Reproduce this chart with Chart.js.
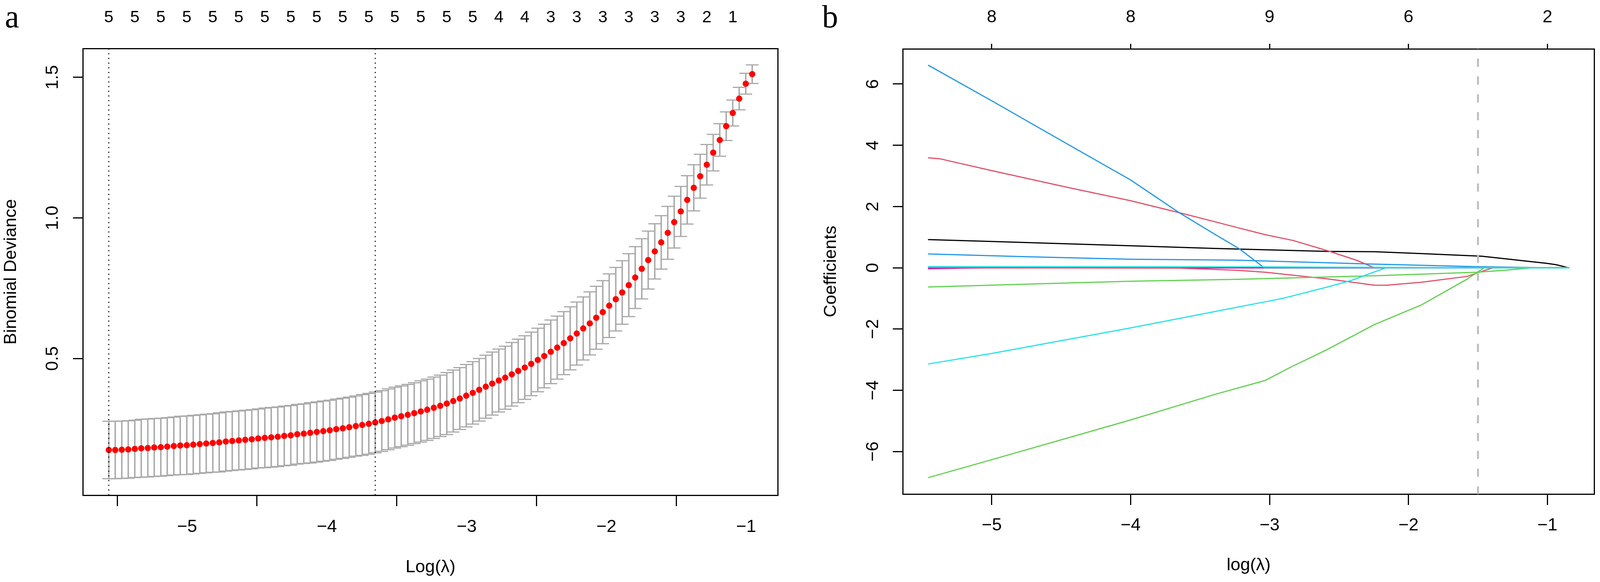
<!DOCTYPE html>
<html>
<head>
<meta charset="utf-8">
<script src="https://cdn.jsdelivr.net/npm/chart.js@4.4.1/dist/chart.umd.min.js"></script>
<style>
  html, body { margin: 0; padding: 0; background: #fff; overflow: hidden; }
  #wrap { position: relative; height: 1489px; overflow: hidden; }
  canvas { position: absolute; top: 0; }
</style>
</head>
<body>
<div id="wrap">
  <canvas id="cvPlot"></canvas>
  <canvas id="pathPlot"></canvas>
</div>
<script>
// ---- panel a: cross-validated binomial deviance ----
const logLambda = [
  -5.560, -5.514, -5.467, -5.421, -5.374, -5.328, -5.281, -5.235, -5.188, -5.142,
  -5.095, -5.049, -5.002, -4.956, -4.909, -4.863, -4.816, -4.770, -4.723, -4.677,
  -4.630, -4.584, -4.537, -4.491, -4.444, -4.398, -4.351, -4.305, -4.258, -4.212,
  -4.165, -4.119, -4.072, -4.026, -3.979, -3.933, -3.886, -3.840, -3.793, -3.747,
  -3.700, -3.654, -3.607, -3.561, -3.514, -3.468, -3.421, -3.375, -3.328, -3.282,
  -3.235, -3.189, -3.142, -3.096, -3.049, -3.003, -2.956, -2.910, -2.863, -2.817,
  -2.770, -2.724, -2.677, -2.631, -2.584, -2.538, -2.491, -2.445, -2.398, -2.352,
  -2.305, -2.259, -2.212, -2.166, -2.119, -2.073, -2.026, -1.980, -1.933, -1.887,
  -1.840, -1.794, -1.747, -1.701, -1.654, -1.608, -1.561, -1.515, -1.468, -1.422,
  -1.375, -1.329, -1.282, -1.236, -1.189, -1.143, -1.096, -1.050, -1.003, -0.957
];
const cvMean = [
  0.175, 0.175, 0.176, 0.177, 0.179, 0.181, 0.182, 0.184, 0.185, 0.187,
  0.189, 0.191, 0.192, 0.194, 0.196, 0.198, 0.200, 0.202, 0.205, 0.207,
  0.209, 0.211, 0.213, 0.216, 0.218, 0.220, 0.222, 0.225, 0.227, 0.231,
  0.233, 0.236, 0.239, 0.242, 0.245, 0.249, 0.252, 0.256, 0.260, 0.264,
  0.268, 0.273, 0.278, 0.284, 0.290, 0.295, 0.300, 0.306, 0.312, 0.318,
  0.325, 0.332, 0.340, 0.349, 0.358, 0.368, 0.378, 0.389, 0.400, 0.411,
  0.422, 0.432, 0.444, 0.456, 0.468, 0.481, 0.495, 0.509, 0.524, 0.539,
  0.555, 0.572, 0.589, 0.607, 0.625, 0.645, 0.665, 0.688, 0.711, 0.735,
  0.761, 0.788, 0.819, 0.850, 0.881, 0.913, 0.947, 0.985, 1.023, 1.064,
  1.107, 1.148, 1.189, 1.232, 1.277, 1.326, 1.373, 1.424, 1.477, 1.511
];
const cvSd = [
  0.102, 0.102, 0.102, 0.102, 0.102, 0.103, 0.103, 0.103, 0.103, 0.103,
  0.103, 0.104, 0.104, 0.104, 0.104, 0.104, 0.104, 0.105, 0.105, 0.105,
  0.105, 0.105, 0.105, 0.105, 0.106, 0.106, 0.106, 0.106, 0.106, 0.106,
  0.106, 0.107, 0.107, 0.107, 0.107, 0.107, 0.107, 0.107, 0.107, 0.108,
  0.108, 0.108, 0.108, 0.108, 0.108, 0.108, 0.108, 0.108, 0.109, 0.109,
  0.109, 0.109, 0.110, 0.110, 0.110, 0.111, 0.111, 0.111, 0.112, 0.112,
  0.112, 0.112, 0.113, 0.113, 0.113, 0.113, 0.113, 0.113, 0.113, 0.112,
  0.112, 0.112, 0.112, 0.112, 0.112, 0.112, 0.112, 0.113, 0.113, 0.113,
  0.112, 0.110, 0.107, 0.103, 0.098, 0.095, 0.094, 0.092, 0.089, 0.086,
  0.082, 0.078, 0.072, 0.065, 0.058, 0.051, 0.046, 0.040, 0.037, 0.033
];
const nzTickIdx = [0, 4, 8, 12, 16, 20, 24, 28, 32, 36, 40, 44, 48, 52, 56, 60, 64, 68, 72, 76, 80, 84, 88, 92, 96];
const nzTickLabels = ['5', '5', '5', '5', '5', '5', '5', '5', '5', '5', '5', '5', '5', '5', '5',
  '4', '4', '3', '3', '3', '3', '3', '3', '2', '1'];
const lambdaMarkIdx = [0, 41]; // lambda.min, lambda.1se
const devTicks = [0.5, 1.0, 1.5];
const logTicks = [-5, -4, -3, -2, -1];
const devRange = [0.0142, 1.6023];
const logRangeA = [-5.744, -0.773];

// ---- panel b: coefficient paths ----
const logRangeB = [-5.639, -0.662];
const coefRange = [-7.388, 7.148];
const coefTicks = [-6, -4, -2, 0, 2, 4, 6];
const dfLabels = ['8', '8', '9', '6', '2'];
const cutLine = [-1.50];

const zeroX = [-5.455, -0.846];
const zeroY = [0, 0];
const blackX = [-5.455, -5.003, -4.001, -3.382, -2.578, -2.244, -1.910, -1.473, -1.272, -1.172, -1.004, -0.937, -0.846];
const blackY = [0.92, 0.86, 0.72, 0.63, 0.535, 0.525, 0.463, 0.378, 0.28, 0.229, 0.144, 0.101, 0.0];
const redX = [-5.455, -5.374, -4.997, -4.459, -4.001, -3.651, -3.382, -3.248, -3.030, -2.829, -2.578, -2.377, -2.244, -0.846];
const redY = [3.59, 3.56, 3.17, 2.63, 2.19, 1.80, 1.49, 1.33, 1.08, 0.89, 0.55, 0.25, 0.0, 0.0];
const red2X = [-5.455, -3.650, -3.248, -3.030, -2.578, -2.244, -2.160, -1.910, -1.578, -1.480, -1.410, -1.390, -0.846];
const red2Y = [0.0, -0.01, -0.078, -0.146, -0.367, -0.571, -0.571, -0.473, -0.281, -0.132, -0.026, 0.0, 0.0];
const greenX = [-5.455, -4.728, -4.001, -3.248, -2.244, -1.510, -1.300, -1.105, -0.846];
const greenY = [-0.626, -0.53, -0.44, -0.38, -0.26, -0.146, -0.08, 0.0, 0.0];
const green2X = [-5.455, -5.003, -4.001, -3.382, -3.032, -2.850, -2.590, -2.244, -1.910, -1.578, -1.455, -0.846];
const green2Y = [-6.85, -6.27, -4.97, -4.12, -3.68, -3.25, -2.68, -1.85, -1.22, -0.37, 0.0, 0.0];
const blueX = [-5.455, -5.003, -4.459, -4.001, -3.651, -3.382, -3.221, -3.038, -0.846];
const blueY = [6.61, 5.46, 4.05, 2.87, 1.80, 1.06, 0.63, 0.0, 0.0];
const blue2X = [-5.455, -4.728, -4.001, -3.248, -2.244, -1.510, -1.080, -0.950, -0.846];
const blue2Y = [0.45, 0.36, 0.28, 0.25, 0.12, 0.036, 0.007, 0.0, 0.0];
const cyanX = [-5.455, -3.000, -2.200, -1.500, -1.200, -0.846];
const cyanY = [0.04, 0.03, 0.015, 0.005, 0.0, 0.0];
const cyan2X = [-5.455, -5.003, -4.001, -3.248, -3.002, -2.910, -2.578, -2.410, -2.244, -2.160, -0.846];
const cyan2Y = [-3.14, -2.80, -1.965, -1.30, -1.085, -1.005, -0.62, -0.41, -0.133, 0.0, 0.0];
const magentaX = [-5.455, -5.200, -4.900, -0.846];
const magentaY = [-0.03, -0.01, 0.0, 0.0];

// ---- page geometry: the design is 4275 wide, squeeze horizontally to the viewport ----
const W = Math.min(window.innerWidth || 4275, 4275);
const sx = W / 4275;
const H = 1489;
const splitX = Math.round(2137 * sx);

const wrap = document.getElementById('wrap');
wrap.style.width = W + 'px';
const cvCanvas = document.getElementById('cvPlot');
const pathCanvas = document.getElementById('pathPlot');
cvCanvas.width = splitX; cvCanvas.height = H; cvCanvas.style.left = '0px';
pathCanvas.width = W - splitX; pathCanvas.height = H; pathCanvas.style.left = splitX + 'px';

Chart.defaults.font.family = '"Liberation Sans", Arial, Helvetica, sans-serif';
Chart.defaults.font.size = 45;
Chart.defaults.color = '#000';

const minus = v => (v < 0 ? '\u2212' + Math.abs(v) : String(v));
const fixedTicks = values => s => { s.ticks = values.map(value => ({ value })); };

const panelLetter = {
  id: 'panelLetter',
  afterDraw(chart, args, opts) {
    const { ctx } = chart;
    ctx.save();
    ctx.font = '82px "Liberation Serif", "Times New Roman", serif';
    ctx.fillStyle = '#000';
    ctx.textBaseline = 'alphabetic';
    ctx.fillText(opts.text, opts.x, opts.y);
    ctx.restore();
  }
};

const tickGrid = len => ({
  drawOnChartArea: false, drawTicks: true, tickLength: len,
  tickWidth: 3, tickColor: '#000', color: '#000', lineWidth: 3
});
const noGrid = { display: false, drawTicks: false };
const frame = { display: true, color: '#000', width: 3 };

const baseOptions = {
  responsive: false,
  devicePixelRatio: 1,
  animation: false,
  events: [],
  layout: { padding: 0 },
  plugins: { legend: { display: false }, tooltip: { enabled: false } }
};

// ---- chart a ----
const cvPoints = logLambda.map((x, i) => ({ x, y: cvMean[i] }));
const cvBars = logLambda.map((x, i) => ({ x, y: [cvMean[i] - cvSd[i], cvMean[i] + cvSd[i]] }));
const cvUpper = logLambda.map((x, i) => ({ x, y: cvMean[i] + cvSd[i] }));
const cvLower = logLambda.map((x, i) => ({ x, y: cvMean[i] - cvSd[i] }));

const markLines = lambdaMarkIdx.map(i => ({
  type: 'scatter', showLine: true,
  data: [{ x: logLambda[i], y: devRange[1] }, { x: logLambda[i], y: devRange[0] }],
  borderColor: '#000', borderWidth: 2.5, borderDash: [3, 9],
  pointRadius: 0, order: 0
}));

new Chart(cvCanvas, {
  type: 'scatter',
  data: {
    datasets: [
      ...markLines,
      { type: 'scatter', data: cvPoints, pointRadius: 8, pointBackgroundColor: '#FF0000',
        pointBorderWidth: 0, order: 1 },
      { type: 'scatter', data: cvUpper, pointStyle: 'line', pointRadius: 17 * sx,
        pointBorderColor: '#A9A9A9', pointBorderWidth: 3, order: 2 },
      { type: 'scatter', data: cvLower, pointStyle: 'line', pointRadius: 17 * sx,
        pointBorderColor: '#A9A9A9', pointBorderWidth: 3, order: 2 },
      { type: 'bar', data: cvBars, backgroundColor: '#A9A9A9', borderWidth: 0,
        barThickness: 3, order: 3 }
    ]
  },
  options: {
    ...baseOptions,
    plugins: { ...baseOptions.plugins, panelLetter: { text: 'a', x: 13 * sx, y: 70 } },
    scales: {
      x: {
        type: 'linear', position: 'bottom', min: logRangeA[0], max: logRangeA[1], offset: false,
        afterBuildTicks: fixedTicks(logTicks),
        afterFit: s => { s.height = 222; },
        grid: tickGrid(28), border: frame,
        ticks: { autoSkip: false, maxRotation: 0, padding: 27, callback: minus },
        title: { display: true, text: 'Log(\u03bb)', padding: { top: 0, bottom: 10 } }
      },
      xTop: {
        type: 'linear', position: 'top', min: logRangeA[0], max: logRangeA[1], offset: false,
        afterBuildTicks: s => { s.ticks = nzTickIdx.map(i => ({ value: logLambda[i] })); },
        afterFit: s => { s.height = 124; },
        grid: noGrid, border: frame,
        ticks: { autoSkip: false, maxRotation: 0, padding: 53, font: { size: 43 },
          callback: (v, i) => nzTickLabels[i] }
      },
      y: {
        type: 'linear', position: 'left', min: devRange[0], max: devRange[1],
        afterBuildTicks: fixedTicks(devTicks),
        afterFit: s => { s.width = 222 * sx; },
        grid: tickGrid(27 * sx), border: frame,
        ticks: { autoSkip: false, minRotation: 90, maxRotation: 90, crossAlign: 'center',
          padding: 54 * sx - 31.3, callback: v => v.toFixed(1) },
        title: { display: true, text: 'Binomial Deviance', padding: { top: Math.max(0, 30 * sx - 27), bottom: 0 } }
      },
      yRight: {
        type: 'linear', position: 'right', min: devRange[0], max: devRange[1],
        afterFit: s => { s.width = 59 * sx; },
        grid: noGrid, border: frame, ticks: { display: false }
      }
    }
  },
  plugins: [panelLetter]
});

// ---- chart b ----
const path = (xs, ys, color, order) => ({
  type: 'scatter', showLine: true,
  data: xs.map((x, i) => ({ x, y: ys[i] })),
  borderColor: color, borderWidth: 3, borderCapStyle: 'round', borderJoinStyle: 'round',
  pointRadius: 0, tension: 0, order
});

const cutLines = cutLine.map(v => ({
  type: 'scatter', showLine: true,
  data: [{ x: v, y: coefRange[1] }, { x: v, y: coefRange[0] }],
  borderColor: '#BEBEBE', borderWidth: 5, borderDash: [21, 24.6], borderDashOffset: 20.6,
  pointRadius: 0, order: 0
}));

new Chart(pathCanvas, {
  type: 'scatter',
  data: {
    datasets: [
      ...cutLines,
      path(cyanX, cyanY, '#28E2E5', 1),
      path(green2X, green2Y, '#61D04F', 2),
      path(cyan2X, cyan2Y, '#28E2E5', 3),
      path(greenX, greenY, '#61D04F', 4),
      path(red2X, red2Y, '#DF536B', 5),
      path(blue2X, blue2Y, '#2297E6', 6),
      path(blueX, blueY, '#2297E6', 7),
      path(redX, redY, '#DF536B', 8),
      path(magentaX, magentaY, '#CD0BBC', 9),
      path(blackX, blackY, '#000000', 10),
      path(zeroX, zeroY, '#000000', 11)
    ]
  },
  options: {
    ...baseOptions,
    plugins: { ...baseOptions.plugins, panelLetter: { text: 'b', x: 59 * sx, y: 70 } },
    scales: {
      x: {
        type: 'linear', position: 'bottom', min: logRangeB[0], max: logRangeB[1], offset: false,
        afterBuildTicks: fixedTicks(logTicks),
        afterFit: s => { s.height = 225; },
        grid: tickGrid(28), border: frame,
        ticks: { autoSkip: false, maxRotation: 0, padding: 26, callback: minus },
        title: { display: true, text: 'log(\u03bb)', padding: { top: 0, bottom: 15 } }
      },
      xTop: {
        type: 'linear', position: 'top', min: logRangeB[0], max: logRangeB[1], offset: false,
        afterBuildTicks: fixedTicks(logTicks),
        afterFit: s => { s.height = 125; },
        grid: tickGrid(13), border: frame,
        ticks: { autoSkip: false, maxRotation: 0, padding: 40, callback: (v, i) => dfLabels[i] }
      },
      y: {
        type: 'linear', position: 'left', min: coefRange[0], max: coefRange[1],
        afterBuildTicks: fixedTicks(coefTicks),
        afterFit: s => { s.width = 275 * sx; },
        grid: tickGrid(27 * sx), border: frame,
        ticks: { autoSkip: false, minRotation: 90, maxRotation: 90, crossAlign: 'center',
          padding: 52 * sx - 25.6, callback: minus },
        title: { display: true, text: 'Coefficients', padding: { top: 83 * sx - 27, bottom: 0 } }
      },
      yRight: {
        type: 'linear', position: 'right', min: coefRange[0], max: coefRange[1],
        afterFit: s => { s.width = 15 * sx; },
        grid: noGrid, border: frame, ticks: { display: false }
      }
    }
  },
  plugins: [panelLetter]
});
</script>
</body>
</html>
